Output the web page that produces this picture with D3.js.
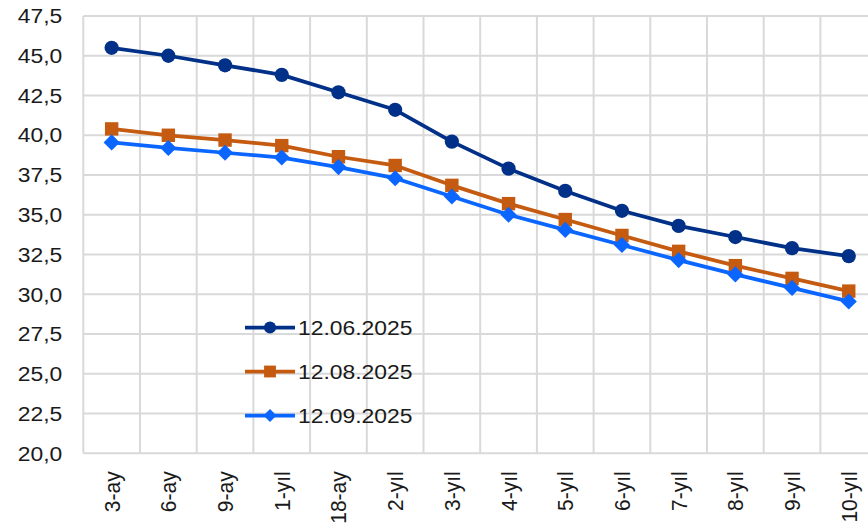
<!DOCTYPE html>
<html>
<head>
<meta charset="utf-8">
<script src="https://cdn.jsdelivr.net/npm/d3@7"></script>
<style>
body { margin: 0; background: #fff; }
svg { display: block; font-family: "Liberation Sans", Arial, sans-serif; }
</style>
</head>
<body>
<svg id="chart"></svg>
<script>
var categories = ["3-ay", "6-ay", "9-ay", "1-yıl", "18-ay", "2-yıl", "3-yıl", "4-yıl", "5-yıl", "6-yıl", "7-yıl", "8-yıl", "9-yıl", "10-yıl"];
var seriesNames = ["12.06.2025", "12.08.2025", "12.09.2025"];
var jun = [45.5, 45.0, 44.4, 43.8, 42.7, 41.6, 39.6, 37.9, 36.5, 35.25, 34.3, 33.6, 32.9, 32.4];
var aug = [40.4, 40.0, 39.7, 39.35, 38.65, 38.1, 36.85, 35.7, 34.7, 33.7, 32.7, 31.8, 31.0, 30.2];
var sep = [39.55, 39.2, 38.9, 38.6, 38.0, 37.3, 36.15, 35.0, 34.05, 33.1, 32.15, 31.25, 30.4, 29.55];
var yTicks = [20, 22.5, 25, 27.5, 30, 32.5, 35, 37.5, 40, 42.5, 45, 47.5];

var colors = ["#003087", "#C55A11", "#0A66FF"];
var width = 868, height = 529;
var margin = { top: 16, left: 83.3, bottom: 75.7 };
var bandW = 56.7;
var sx = 1.09; // the text in the picture is a bit wider than the font

var svg = d3.select("#chart").attr("width", width).attr("height", height);

var x = d3.scaleBand()
	.domain(categories)
	.range([margin.left, margin.left + bandW * categories.length]);
var y = d3.scaleLinear()
	.domain([20, 47.5])
	.range([height - margin.bottom, margin.top]);

var locale = d3.formatLocale({ decimal: ",", thousands: ".", grouping: [3], currency: ["", ""] });
var fmt = locale.format(".1f");

// markers: circle, square, square turned into diamond
function marker(sel, k, big) {
	if (k == 0) {
		sel.attr("d", d3.symbol().type(d3.symbolCircle).size(big ? 160 : 115));
	} else if (k == 1) {
		sel.attr("d", d3.symbol().type(d3.symbolSquare).size(big ? 180 : 140));
	} else {
		sel.attr("d", d3.symbol().type(d3.symbolSquare).size(big ? 130 : 85));
	}
}

// grid
var grid = svg.append("g").attr("stroke", "#d9d9d9").attr("stroke-width", 2);
grid.selectAll("line.h").data(yTicks).enter().append("line")
	.attr("x1", x.range()[0]).attr("x2", x.range()[1])
	.attr("y1", function(d) { return y(d); }).attr("y2", function(d) { return y(d); });
var edges = categories.map(function(c) { return x(c); }).concat([x.range()[1]]);
grid.selectAll("line.v").data(edges).enter().append("line")
	.attr("x1", function(d) { return d; }).attr("x2", function(d) { return d; })
	.attr("y1", y(47.5)).attr("y2", y(20));

// y axis
var yAxis = svg.append("g")
	.attr("transform", "translate(" + margin.left + ",0)")
	.call(d3.axisLeft(y).tickValues(yTicks).tickFormat(fmt).tickSize(0).tickPadding(0));
yAxis.select(".domain").remove();
yAxis.selectAll("text")
	.attr("font-size", 21).attr("fill", "#1a1a1a").attr("font-family", "Liberation Sans, Arial, sans-serif")
	.attr("x", 0)
	.attr("transform", "translate(-21,0) scale(" + sx + ",1)");

// x axis
var xAxis = svg.append("g")
	.attr("transform", "translate(0," + y(20) + ")")
	.call(d3.axisBottom(x).tickSize(0));
xAxis.select(".domain").remove();
xAxis.selectAll("text")
	.attr("font-size", 21).attr("fill", "#1a1a1a").attr("font-family", "Liberation Sans, Arial, sans-serif")
	.attr("transform", "scale(" + sx + ",1) rotate(-90)")
	.attr("text-anchor", "end")
	.attr("x", -18).attr("y", 0).attr("dy", "0.35em");

// lines
var allSeries = [jun, aug, sep];
var line = d3.line()
	.x(function(d, i) { return x(categories[i]) + x.bandwidth() / 2; })
	.y(function(d) { return y(d); });

allSeries.forEach(function(s, k) {
	var g = svg.append("g");
	g.append("path").datum(s)
		.attr("fill", "none").attr("stroke", colors[k]).attr("stroke-width", 3.75)
		.attr("stroke-linejoin", "round")
		.attr("d", line);
	g.selectAll("path.m").data(s).enter().append("path")
		.call(marker, k, true)
		.attr("fill", colors[k])
		.attr("transform", function(d, i) {
			return "translate(" + (x(categories[i]) + x.bandwidth() / 2) + "," + y(d) + ")" + (k == 2 ? " rotate(45)" : "");
		});
});

// legend
var legendY = [327.5, 371.5, 415.5];
seriesNames.forEach(function(name, k) {
	var g = svg.append("g").attr("transform", "translate(245," + legendY[k] + ")");
	g.append("line").attr("x1", 0).attr("x2", 50)
		.attr("stroke", colors[k]).attr("stroke-width", 3.75);
	g.append("path").call(marker, k, false)
		.attr("transform", "translate(25,0)" + (k == 2 ? " rotate(45)" : ""))
		.attr("fill", colors[k]);
	g.append("text").attr("dy", "0.35em")
		.attr("transform", "translate(53,0) scale(" + sx + ",1)")
		.attr("font-size", 21).attr("fill", "#1a1a1a")
		.text(name);
});
</script>
</body>
</html>
